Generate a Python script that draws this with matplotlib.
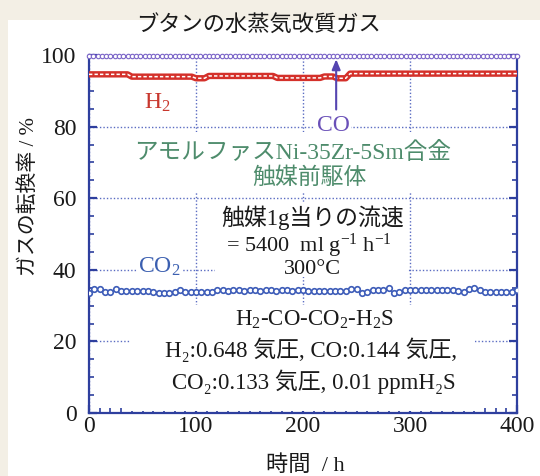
import matplotlib
matplotlib.use("Agg")
import matplotlib.pyplot as plt
from matplotlib.patches import Rectangle
from matplotlib.ticker import MultipleLocator

plt.rcParams['font.family'] = ['Liberation Serif', 'Noto Sans CJK JP', 'DejaVu Sans']
plt.rcParams['mathtext.fontset'] = 'custom'
plt.rcParams['mathtext.rm'] = 'Liberation Serif'
plt.rcParams['mathtext.it'] = 'Liberation Serif:italic'
plt.rcParams['mathtext.bf'] = 'Liberation Serif:bold'

# ---------------- data ----------------
t_co = list(range(0, 401, 4))          # time (h), sampling of CO / H2 series
co = [99.7, 99.7, 99.8, 99.7, 99.7, 99.8, 99.7, 99.7, 99.7, 99.8,
      99.7, 99.7, 99.7, 99.8, 99.7, 99.7, 99.7, 99.8, 99.7, 99.7,
      99.7, 99.8, 99.7, 99.7, 99.7, 99.7, 99.8, 99.7, 99.7, 99.7,
      99.8, 99.7, 99.7, 99.7, 99.7, 99.8, 99.7, 99.7, 99.7, 99.8,
      99.7, 99.7, 99.7, 99.8, 99.7, 99.7, 99.7, 99.7, 99.8, 99.7,
      99.7, 99.7, 99.8, 99.7, 99.7, 99.7, 99.8, 99.7, 99.7, 99.7,
      99.7, 99.8, 99.7, 99.7, 99.7, 99.8, 99.7, 99.7, 99.7, 99.7,
      99.8, 99.7, 99.7, 99.7, 99.8, 99.7, 99.7, 99.7, 99.7, 99.8,
      99.7, 99.7, 99.7, 99.8, 99.7, 99.7, 99.7, 99.7, 99.8, 99.7,
      99.7, 99.7, 99.8, 99.7, 99.7, 99.7, 99.7, 99.8, 99.7, 99.7,
      99.7]
h2 = [94.6, 94.6, 94.6, 94.6, 94.6, 94.6, 94.6, 94.6, 94.6, 94.6,
      93.95, 93.95, 93.95, 93.95, 93.95, 93.95, 93.95, 93.95, 93.95, 93.95,
      93.95, 93.95, 93.95, 93.95, 93.95,
      93.5, 93.5, 93.5,
      94.15, 94.15, 94.15, 94.15, 94.15, 94.15, 94.15, 94.15, 94.15, 94.15,
      94.15, 94.15, 94.15, 94.15, 94.15, 94.15,
      93.6, 93.6, 93.6, 93.6, 93.6, 93.6, 93.6, 93.6, 93.6, 93.6, 93.6,
      94.0, 94.0, 94.0,
      93.5, 93.5, 93.5,
      94.8, 94.8, 94.8, 94.8, 94.8, 94.8, 94.8, 94.8, 94.8, 94.8,
      94.8, 94.8, 94.8, 94.8, 94.8, 94.8, 94.8, 94.8, 94.8, 94.8,
      94.8, 94.8, 94.8, 94.8, 94.8, 94.8, 94.8, 94.8, 94.8, 94.8,
      94.8, 94.8, 94.8, 94.8, 94.8, 94.8, 94.8, 94.8, 94.8, 94.8]
t_co2 = list(range(0, 401, 5))
co2 = [33.6, 34.5, 34.5, 33.9, 33.9, 34.5, 34.1, 34.1, 34.1, 34.0,
       34.1, 34.1, 33.7, 33.4, 33.6, 33.4, 33.9, 34.3, 33.9, 33.7,
       33.7, 33.7, 33.8, 33.9, 34.3,
       34.3, 34.2, 34.3, 34.3, 34.2, 34.3, 34.3, 34.2, 34.3, 34.3,
       34.2, 34.3, 34.3, 34.2, 34.3, 34.4,
       34.1, 34.1, 34.0, 34.1, 34.1, 34.1, 34.0, 34.2,
       34.7, 34.5, 33.6, 33.9, 34.3, 34.3, 34.4, 34.9, 33.4, 33.8,
       34.3, 34.3, 34.3, 34.3, 34.3, 34.3, 34.3, 34.3, 34.3, 34.3,
       34.0, 33.9, 34.5, 34.8, 34.3,
       33.9, 33.9, 33.9, 33.9, 33.9, 33.9,
       34.3]

x_ticks = [0, 100, 200, 300, 400]
y_ticks = [0, 20, 40, 60, 80, 100]

# ---------------- figure ----------------
fig = plt.figure(figsize=(5.40, 4.76), dpi=100)
fig.patch.set_facecolor('#f3efe5')
fig.patches.append(Rectangle((8 / 540, 0), 1, 1 - 20 / 476, transform=fig.transFigure,
                             facecolor='white', edgecolor='none', zorder=-5))

ax = fig.add_axes([89 / 540, 1 - 413 / 476, 428 / 540, 358 / 476])
ax.set_zorder(2)
ax.set_facecolor('none')
ax.set_xlim(0, 400)
ax.set_ylim(0, 100)

spine_c = '#2e3f9e'
grid_c = '#5b6cc2'
for s in ['left', 'right', 'bottom']:
    ax.spines[s].set_color(spine_c)
    ax.spines[s].set_linewidth(1.6)
ax.spines['top'].set_visible(False)

ax.set_xticks(x_ticks)
ax.set_yticks(y_ticks)
ax.xaxis.set_minor_locator(MultipleLocator(10))
ax.yaxis.set_minor_locator(MultipleLocator(5))
ax.tick_params(which='both', direction='in', left=True, right=True, bottom=True, top=False,
               color=spine_c, labelcolor='#1a1a1a')
ax.tick_params(which='major', length=6, width=1.6)
ax.tick_params(which='minor', length=3.5, width=1.2)
ax.tick_params(axis='y', which='major', labelsize=17, pad=9)
ax.tick_params(axis='x', which='major', labelsize=17, pad=2)

ax.grid(True, which='major', color=grid_c, linestyle=(0, (1, 1.5)), linewidth=1.0, zorder=1)
ax.set_axisbelow(True)

# white boxes covering grid behind annotation blocks
for (x0, x1, y0, y1) in [(36.4, 345, 61.7, 78.5), (117.8, 298, 38.0, 59.0), (38.3, 360.7, 0.5, 30.2)]:
    ax.add_patch(Rectangle((x0, y0), x1 - x0, y1 - y0, facecolor='white', edgecolor='none', zorder=1.5))

# series
ax.plot(t_co, co, color='#7a64c8', lw=0.8, marker='o', ms=3.2, mfc='white', mec='#7a64c8',
        mew=0.8, zorder=4, clip_on=False)
ax.plot(t_co, h2, color='#d4302a', lw=4.6, solid_capstyle='butt', zorder=3)
ax.plot(t_co, h2, color='white', lw=1.1, linestyle=(0, (2.2, 1.4)), zorder=3.5)
ax.plot(t_co2, co2, color='#3d5cb8', lw=1.0, marker='o', ms=4.0, mfc='white', mec='#3d5cb8',
        mew=1.2, zorder=4)

# annotations
ax.text(63.6, 86.6, r'$\mathregular{H_2}$', color='#c8372d', fontsize=17,
        ha='center', va='center', zorder=5)
ax.annotate('', xy=(231, 99.6), xytext=(231, 84.0),
            arrowprops=dict(arrowstyle='-|>,head_length=0.6,head_width=0.25', color='#5545b0', lw=1.5),
            zorder=5)
ax.text(228, 80.2, 'CO', color='#6a50b8', fontsize=17, ha='center', va='center', zorder=5,
        bbox=dict(facecolor='white', edgecolor='none', pad=1))

green = '#4e8c6c'
ax.text(190, 72.6, 'アモルファスNi-35Zr-5Sm合金', color=green, fontsize=17,
        ha='center', va='center', zorder=5)
ax.text(206, 65.6, '触媒前駆体', color=green, fontsize=16.5, ha='center', va='center', zorder=5)

ax.text(209, 54.6, '触媒1g当りの流速', color='#1a1a1a', fontsize=16.5, ha='center', va='center', zorder=5)
ax.text(205.6, 46.8, r'= 5400  ml g$^{\mathregular{-1}}$ h$^{\mathregular{-1}}$', color='#1a1a1a',
        fontsize=16, ha='center', va='center', zorder=5)
ax.text(209, 40.2, '300°C', color='#1a1a1a', fontsize=16, ha='center', va='center', zorder=5)

ax.text(66, 40.8, r'$\mathregular{CO_2}$', color='#3b5fb0', fontsize=17, ha='center', va='center',
        zorder=5, bbox=dict(facecolor='white', edgecolor='none', pad=1))

ax.text(211, 26.0, r'$\mathregular{H_2}$-CO-$\mathregular{CO_2}$-$\mathregular{H_2S}$', color='#1a1a1a',
        fontsize=16.5, ha='center', va='center', zorder=5)
ax.text(208, 17.6, 'H₂:0.648 気圧, CO:0.144 気圧,', color='#1a1a1a', fontsize=16.5,
        ha='center', va='center', zorder=5)
ax.text(210, 8.7, 'CO₂:0.133 気圧, 0.01 ppmH₂S', color='#1a1a1a', fontsize=16.5,
        ha='center', va='center', zorder=5)

# titles / labels
fig.text(0.478, 1 - 25 / 476, 'ブタンの水蒸気改質ガス', fontsize=16, ha='center', va='center',
         color='#1a1a1a')
fig.text(29 / 540, 1 - 197 / 476, 'ガスの転換率 / %', fontsize=15, rotation=90,
         ha='center', va='center', color='#1a1a1a')
fig.text(305 / 540, 1 - 466 / 476, '時間  / h', fontsize=16, ha='center', va='center', color='#1a1a1a')

fig.savefig('out.png', dpi=100, facecolor=fig.get_facecolor())
